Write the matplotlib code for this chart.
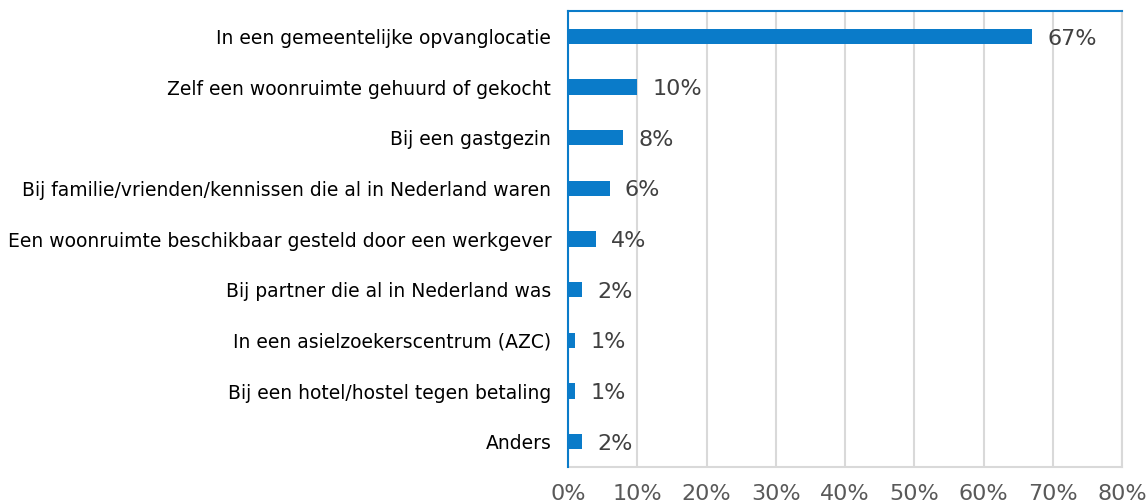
import matplotlib
matplotlib.use("Agg")
import matplotlib.pyplot as plt
import numpy as np

plt.rcParams["font.family"] = ["DejaVu Sans"]

categories = [
    "In een gemeentelijke opvanglocatie",
    "Zelf een woonruimte gehuurd of gekocht",
    "Bij een gastgezin",
    "Bij familie/vrienden/kennissen die al in Nederland waren",
    "Een woonruimte beschikbaar gesteld door een werkgever",
    "Bij partner die al in Nederland was",
    "In een asielzoekerscentrum (AZC)",
    "Bij een hotel/hostel tegen betaling",
    "Anders",
]
values = [67, 10, 8, 6, 4, 2, 1, 1, 2]
ticks = [0, 10, 20, 30, 40, 50, 60, 70, 80]
tick_labels = [f"{t}%" for t in ticks]

blue = "#0a7bc9"
grey_line = "#d9d9d9"
grey_text = "#595959"

fig = plt.figure(figsize=(11.48, 5.04), dpi=100)
ax = fig.add_axes([0.4948, 0.0734, 0.4826, 0.9046])

y = np.arange(len(categories))
ax.barh(y, values, height=0.3, color=blue, zorder=3)

for yi, v in zip(y, values):
    ax.annotate(f"{v}%", xy=(v, yi), xytext=(11, -1.5), textcoords="offset points",
                ha="left", va="center", fontsize=16, color="#404040", zorder=4)

ax.set_ylim(len(categories) - 0.5, -0.5)
ax.set_xlim(0, 80)
ax.set_yticks(y)
ax.set_yticklabels(categories, fontsize=13.5, color="black")
ax.set_xticks(ticks)
ax.set_xticklabels(tick_labels, fontsize=16, color=grey_text)
ax.tick_params(axis="y", length=0, pad=12)
ax.tick_params(axis="x", length=0, pad=12)

ax.grid(axis="x", color=grey_line, linewidth=1.5, zorder=0)
ax.spines["left"].set_color(blue)
ax.spines["left"].set_linewidth(1.5)
ax.spines["top"].set_color(blue)
ax.spines["top"].set_linewidth(1.5)
ax.spines["bottom"].set_color(grey_line)
ax.spines["bottom"].set_linewidth(1.5)
ax.spines["right"].set_color(grey_line)
ax.spines["right"].set_linewidth(1.5)
ax.spines["left"].set_zorder(5)

fig.savefig("out.png", dpi=100)
